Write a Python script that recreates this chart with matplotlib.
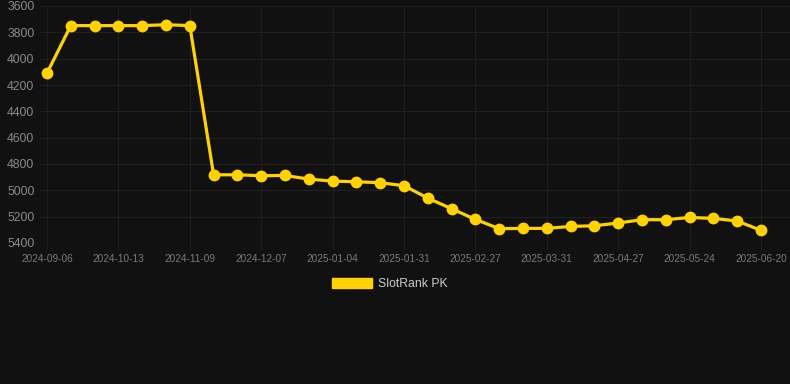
import matplotlib
matplotlib.use("Agg")
import matplotlib.pyplot as plt
from matplotlib.patches import Patch

dates = ["2024-09-06", "2024-09-18", "2024-10-01", "2024-10-13", "2024-10-22", "2024-10-31",
         "2024-11-09", "2024-11-18", "2024-11-27", "2024-12-07", "2024-12-16", "2024-12-25",
         "2025-01-04", "2025-01-13", "2025-01-22", "2025-01-31", "2025-02-09", "2025-02-18",
         "2025-02-27", "2025-03-10", "2025-03-21", "2025-03-31", "2025-04-09", "2025-04-18",
         "2025-04-27", "2025-05-06", "2025-05-15", "2025-05-24", "2025-06-02", "2025-06-11",
         "2025-06-20"]
rank = [4110, 3749, 3749, 3749, 3749, 3742, 3749, 4882, 4882, 4889, 4887, 4915,
        4930, 4935, 4942, 4965, 5059, 5140, 5221, 5291, 5289, 5289, 5274, 5269,
        5248, 5223, 5223, 5206, 5213, 5233, 5304]
yticks = [3600, 3800, 4000, 4200, 4400, 4600, 4800, 5000, 5200, 5400]
series_name = "SlotRank PK"

bg = "#111111"
grid_c = "#1f1f1f"
line_c = "#FFD200"

plt.rcParams['font.family'] = ['Liberation Sans', 'DejaVu Sans']

W, H = 790, 384
fig = plt.figure(figsize=(W / 100, H / 100), dpi=100, facecolor=bg)
ax = fig.add_axes([40 / W, (H - 243) / H, 750 / W, 237 / H], facecolor=bg)

x = list(range(len(dates)))
ax.plot(x, rank, color=line_c, lw=2.3, marker='o', ms=7.5, mfc=line_c, mec=line_c,
        solid_joinstyle='round', zorder=3, clip_on=False)

ax.set_ylim(5400, 3600)
ax.set_yticks(yticks)
ax.set_yticklabels([str(v) for v in yticks])
step = 23.8
ax.set_xlim(-7 / step, (790 - 47) / step)
ax.set_xticks(x[::3])
ax.set_xticklabels(dates[::3])

ax.grid(True, color=grid_c, lw=0.8)
ax.set_axisbelow(True)
for s in ax.spines.values():
    s.set_visible(False)
ax.tick_params(axis='y', length=0, pad=4, labelsize=8.8, labelcolor="#8a8a8a")
ax.tick_params(axis='x', length=5, color=grid_c, pad=3, labelsize=7.2, labelcolor="#7a7a7a")

handle = Patch(facecolor=line_c, edgecolor=line_c)
leg = fig.legend([handle], [series_name], loc='center', bbox_to_anchor=(390 / W, 1 - 284 / H),
                 frameon=False, fontsize=8.8, handlelength=3.3, handleheight=0.9,
                 handletextpad=0.5, labelcolor="#cccccc")

fig.savefig("out.png", dpi=100, facecolor=bg)
